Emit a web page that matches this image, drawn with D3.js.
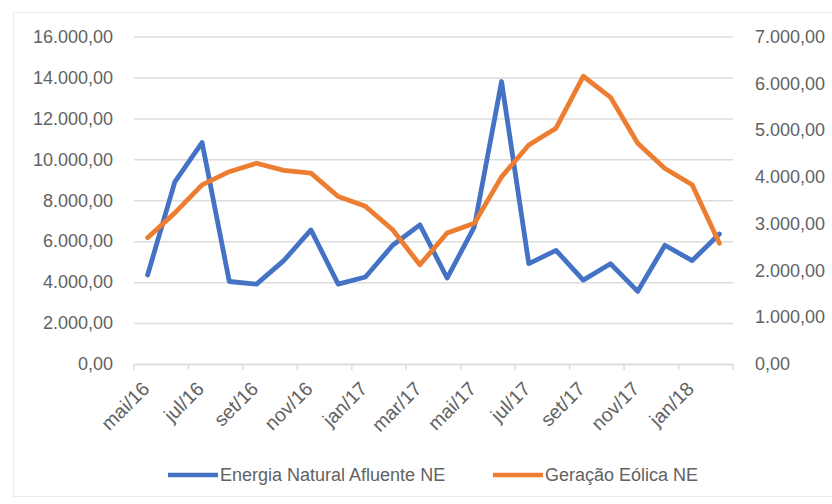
<!DOCTYPE html>
<html>
<head>
<meta charset="utf-8">
<script src="https://cdn.jsdelivr.net/npm/d3@7"></script>
<style>
  html, body { margin: 0; padding: 0; background: #fff; }
  svg { display: block; font-family: "Liberation Sans", Arial, sans-serif; }
</style>
</head>
<body>
<svg width="832" height="504"></svg>
<script>
// months on the category axis
const months = ["mai/16", "jun/16", "jul/16", "ago/16", "set/16", "out/16", "nov/16", "dez/16",
  "jan/17", "fev/17", "mar/17", "abr/17", "mai/17", "jun/17", "jul/17", "ago/17", "set/17",
  "out/17", "nov/17", "dez/17", "jan/18", "fev/18"];
// left axis series
const energiaNatural = [4350, 8900, 10820, 4030, 3900, 5050, 6550, 3900, 4250, 5800, 6800,
  4200, 6700, 13800, 4900, 5550, 4100, 4900, 3550, 5800, 5050, 6350];
// right axis series
const geracaoEolica = [2700, 3230, 3830, 4110, 4290, 4140, 4080, 3580, 3370, 2870, 2120,
  2800, 3010, 4000, 4680, 5040, 6150, 5700, 4720, 4180, 3830, 2580];
const leftTicks = [0, 2000, 4000, 6000, 8000, 10000, 12000, 14000, 16000];
const rightTicks = [0, 1000, 2000, 3000, 4000, 5000, 6000, 7000];
const seriesNames = ["Energia Natural Afluente NE", "Geração Eólica NE"];

const constants = {
  layout: { left: 134, right: 733, top: 36.5, bottom: 364, fontSize: 18 },
  colors: { blue: "#4472C4", orange: "#ED7D31", grid: "#dcdcdc", text: "#626262" }
};

const ptBR = d3.formatLocale({ decimal: ",", thousands: ".", grouping: [3], currency: ["R$", ""] });
const fmt = ptBR.format(",.2f");

const svg = d3.select("svg");
const { layout, colors } = constants;

// chart border
svg.append("rect")
  .attr("x", 13.5).attr("y", 12.5)
  .attr("width", 830).attr("height", 484)
  .attr("fill", "none").attr("stroke", "#ebebeb");

const xScale = d3.scaleBand().domain(months).range([layout.left, layout.right]).padding(0);
const yLeft = d3.scaleLinear().domain([0, 16000]).range([layout.bottom, layout.top]);
const yRight = d3.scaleLinear().domain([0, 7000]).range([layout.bottom, layout.top]);
const cx = (m) => xScale(m) + xScale.bandwidth() / 2;

// gridlines + left labels
const leftAxis = svg.append("g")
  .attr("transform", `translate(${layout.left},0)`)
  .call(d3.axisLeft(yLeft).tickValues(leftTicks).tickFormat(fmt)
    .tickSize(-(layout.right - layout.left)).tickPadding(21));
leftAxis.select(".domain").remove();
leftAxis.selectAll("line").attr("stroke", colors.grid).attr("stroke-width", 1.5);
leftAxis.selectAll("text")
  .attr("fill", colors.text).attr("font-size", layout.fontSize)
  .style("font-family", "Liberation Sans, Arial, sans-serif");

// right labels
const rightAxis = svg.append("g")
  .attr("transform", `translate(${layout.right},0)`)
  .call(d3.axisRight(yRight).tickValues(rightTicks).tickFormat(fmt).tickSize(0).tickPadding(22));
rightAxis.select(".domain").remove();
rightAxis.selectAll("text")
  .attr("fill", colors.text).attr("font-size", layout.fontSize)
  .style("font-family", "Liberation Sans, Arial, sans-serif");

// category axis
const xAxis = svg.append("g")
  .attr("transform", `translate(0,${layout.bottom})`)
  .call(d3.axisBottom(xScale).tickValues(months.filter((d, i) => i % 2 === 0)).tickSize(0));
xAxis.select(".domain").attr("stroke", colors.grid).attr("stroke-width", 1.5);
xAxis.selectAll("text")
  .attr("fill", colors.text).attr("font-size", 19.5)
  .style("font-family", "Liberation Sans, Arial, sans-serif")
  .attr("text-anchor", "end")
  .attr("dy", 0).attr("y", 0)
  .attr("transform", "translate(3,26) rotate(-45)");

// tick marks between category pairs
const tickPos = months.filter((d, i) => i % 2 === 0).map((m) => xScale(m)).concat([layout.right]);
svg.append("g").selectAll("line").data(tickPos).join("line")
  .attr("x1", (d) => d).attr("x2", (d) => d)
  .attr("y1", layout.bottom).attr("y2", layout.bottom + 6)
  .attr("stroke", colors.grid).attr("stroke-width", 1.5);

// lines
const drawLine = (values, scale, color) => {
  svg.append("path")
    .datum(values.map((v, i) => ({ key: months[i], value: v })))
    .attr("fill", "none")
    .attr("stroke", color)
    .attr("stroke-width", 4.8)
    .attr("stroke-linejoin", "round")
    .attr("stroke-linecap", "round")
    .attr("d", d3.line().x((d) => cx(d.key)).y((d) => scale(d.value)));
};
drawLine(energiaNatural, yLeft, colors.blue);
drawLine(geracaoEolica, yRight, colors.orange);

// legend
const legend = svg.append("g");
const legendItems = [
  { name: seriesNames[0], color: colors.blue, x: 168 },
  { name: seriesNames[1], color: colors.orange, x: 493 }
];
legendItems.forEach(({ name, color, x }) => {
  legend.append("line")
    .attr("x1", x).attr("x2", x + 50).attr("y1", 475).attr("y2", 475)
    .attr("stroke", color).attr("stroke-width", 4.5);
  legend.append("text")
    .attr("x", x + 52).attr("y", 481)
    .attr("font-size", layout.fontSize)
    .attr("fill", colors.text)
    .text(name);
});
</script>
</body>
</html>
